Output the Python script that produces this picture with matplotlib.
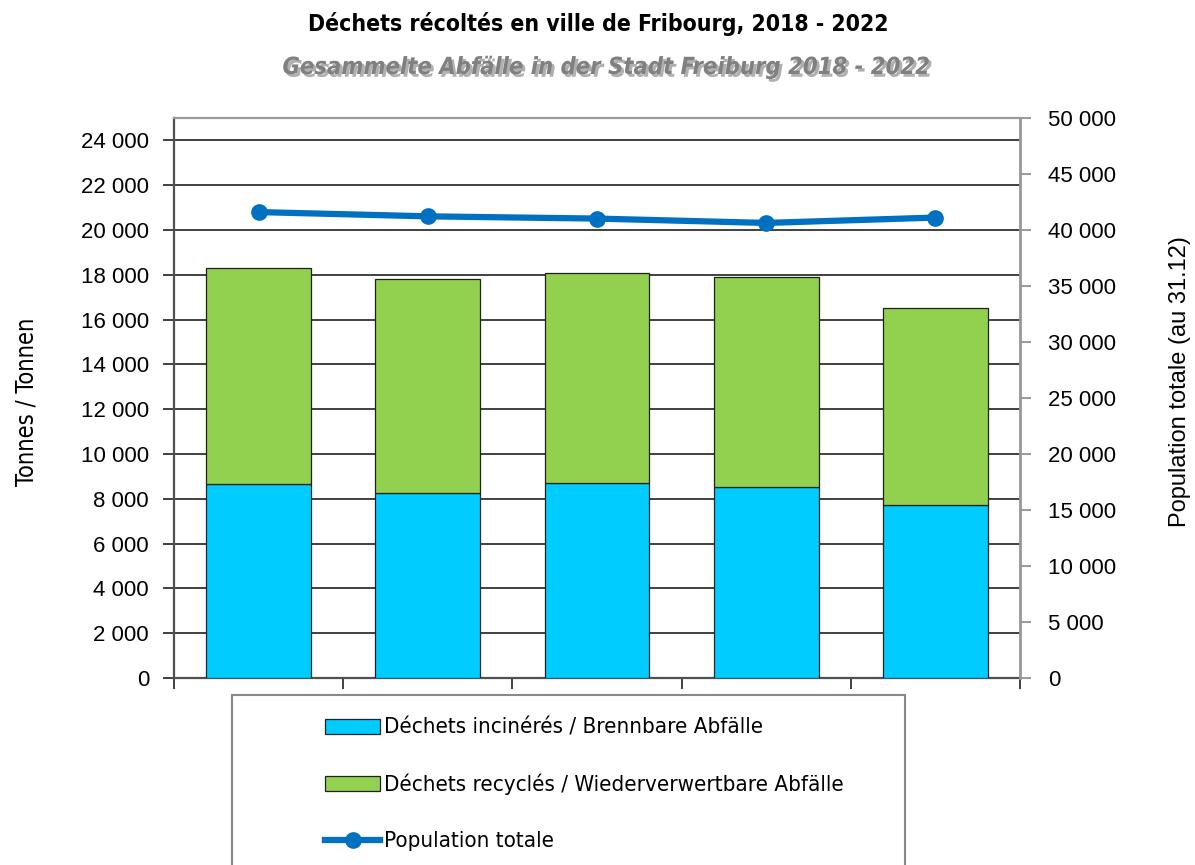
import matplotlib
matplotlib.use('Agg')
import matplotlib.pyplot as plt
import numpy as np
from matplotlib.ticker import FuncFormatter
from matplotlib.patches import Patch, Rectangle
from matplotlib.lines import Line2D
import matplotlib.patheffects as pe

# données
annees = ['2018', '2019', '2020', '2021', '2022']
incineres = [8650, 8260, 8700, 8530, 7740]
recycles = [9670, 9550, 9400, 9370, 8780]
population = [41600, 41220, 41020, 40630, 41110]

plt.rcParams['font.family'] = ['Liberation Sans', 'DejaVu Sans']
COND = {'family': 'DejaVu Sans', 'stretch': 'condensed'}

W, H = 1195, 865
fig = plt.figure(figsize=(W / 100, H / 100), dpi=100)
ax = fig.add_axes([174 / W, 1 - 678 / H, (1020 - 174) / W, (678 - 118) / H])

x = np.arange(len(annees))
ax.bar(x, incineres, width=0.62, color='#00CCFF', edgecolor='#202020', linewidth=0.9, zorder=3)
ax.bar(x, recycles, bottom=incineres, width=0.62, color='#92D050', edgecolor='#202020',
       linewidth=0.9, zorder=3)

ax.set_xlim(-0.5, len(annees) - 0.5)
ax.set_ylim(0, 25000)
ax.set_yticks(range(0, 24001, 2000))
ax.grid(axis='y', color='#404040', linewidth=1.4, zorder=0)
ax.set_xticks(np.arange(-0.5, len(annees), 1))
ax.set_xticklabels([])
ax.tick_params(axis='x', direction='out', length=8, width=1.4, color='#404040')
ax.tick_params(axis='y', direction='out', length=8, width=1.4, color='#404040',
               labelsize=16, pad=10)

fmt = FuncFormatter(lambda v, p: f"{int(v):,}".replace(',', ' '))
ax.yaxis.set_major_formatter(fmt)

for s in ['left', 'bottom']:
    ax.spines[s].set_color('#505050')
    ax.spines[s].set_linewidth(1.6)
ax.spines['top'].set_color('#999999')
ax.spines['top'].set_linewidth(1.6)

ax2 = ax.twinx()
ax2.plot(x, population, color='#0070C0', linewidth=4.5, marker='o', markersize=11,
         markerfacecolor='#0070C0', markeredgecolor='#0070C0', zorder=5)
ax2.set_ylim(0, 50000)
ax2.set_yticks(range(0, 50001, 5000))
ax2.yaxis.set_major_formatter(fmt)
ax2.tick_params(axis='y', direction='out', length=8, width=1.4, color='#999999',
                labelsize=16, pad=12)
ax2.spines['right'].set_color('#999999')
ax2.spines['right'].set_linewidth(2)
for s in ['left', 'top', 'bottom']:
    ax2.spines[s].set_visible(False)

# titres
fig.text(598 / W, 1 - 24 / H, 'Déchets récoltés en ville de Fribourg, 2018 - 2022',
         ha='center', va='center', fontsize=16.5, fontweight='bold', **COND)
fig.text(606 / W, 1 - 67 / H, 'Gesammelte Abfälle in der Stadt Freiburg 2018 - 2022',
         ha='center', va='center', fontsize=17, fontweight='bold', style='italic',
         color='#808080', **COND,
         path_effects=[pe.SimplePatchShadow(offset=(2, -2), shadow_rgbFace='#b0b0b0', alpha=1),
                       pe.Normal()])

fig.text(27 / W, 1 - 402 / H, 'Tonnes / Tonnen', rotation=90, ha='center', va='center',
         fontsize=17, **COND)
fig.text(1180 / W, 1 - 382 / H, 'Population totale (au 31.12)', rotation=90, ha='center',
         va='center', fontsize=17)

# légende
fig.add_artist(Rectangle((232 / W, -0.02), (905 - 232) / W, (865 - 695) / H + 0.02,
                         transform=fig.transFigure, fill=False, edgecolor='#888888',
                         linewidth=1.5))
handles = [
    Patch(facecolor='#00CCFF', edgecolor='#202020', linewidth=0.9),
    Patch(facecolor='#92D050', edgecolor='#202020', linewidth=0.9),
    Line2D([], [], color='#0070C0', linewidth=4.5, marker='o', markersize=11),
]
labels = ['Déchets incinérés / Brennbare Abfälle',
          'Déchets recyclés / Wiederverwertbare Abfälle',
          'Population totale']
fig.legend(handles, labels, loc='upper left', bbox_to_anchor=(316 / W, 1 - 709 / H),
           frameon=False, prop={'size': 16, **COND}, handlelength=2.5,
           handleheight=0.65, handletextpad=0.15, labelspacing=1.62, borderaxespad=0)

fig.savefig('out.png', dpi=100)
